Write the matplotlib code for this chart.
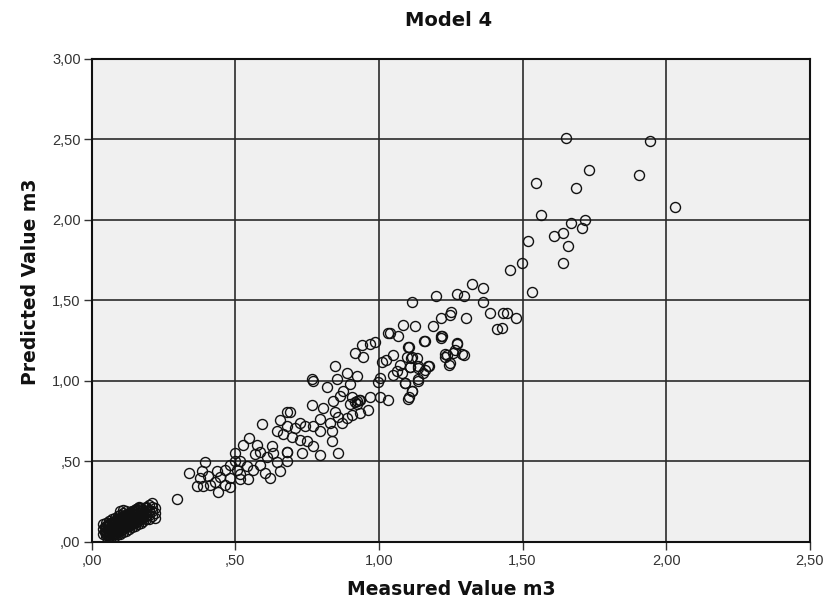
import matplotlib
matplotlib.use("Agg")
import matplotlib.pyplot as plt
from matplotlib.ticker import FuncFormatter

title = "Model 4"
x_label = "Measured Value m3"
y_label = "Predicted Value m3"

# dense cluster of small values
cluster_x = [0.04,0.04,0.04,0.05,0.05,0.05,0.05,0.05,0.06,0.06,0.06,0.06,0.06,0.06,0.07,0.07,0.07,0.07,0.07,0.07,
             0.08,0.08,0.08,0.08,0.08,0.08,0.09,0.09,0.09,0.09,0.09,0.09,0.10,0.10,0.10,0.10,0.10,0.10,0.10,
             0.11,0.11,0.11,0.11,0.11,0.11,0.11,0.12,0.12,0.12,0.12,0.12,0.12,0.13,0.13,0.13,0.13,0.13,
             0.14,0.14,0.14,0.14,0.14,0.15,0.15,0.15,0.15,0.16,0.16,0.16,0.16,0.17,0.17,0.17,0.17,
             0.18,0.18,0.18,0.19,0.19,0.19,0.20,0.20,0.20,0.21,0.21,0.21,0.22,0.22,0.22,
             0.08,0.09,0.10,0.11,0.12,0.13,0.14,0.15,0.16,0.17,0.18,0.19,
             0.05,0.06,0.07,0.08,0.09,0.10,0.11,0.12,0.13,0.14,0.15,0.16,
             0.06,0.07,0.09,0.10,0.11,0.12,0.13,0.14,0.15,0.16,0.17,0.18,0.19,
             0.05,0.06,0.08,0.09,0.10,0.12,0.13,0.14,0.16,0.17,0.18,0.19,0.20,0.20,0.21,0.19,
             0.045,0.055,0.065,0.075,0.085,0.095,0.105,0.115,0.125,0.135,0.145,0.155,
             0.045,0.055,0.065,0.075,0.085,0.095,0.105,0.115,0.125,0.135,0.145,0.155,0.165,
             0.055,0.065,0.075,0.085,0.095,0.105,0.115,0.125,0.135,0.145]
cluster_y = [0.05,0.08,0.11,0.04,0.07,0.10,0.12,0.06,0.03,0.05,0.08,0.11,0.13,0.07,0.04,0.06,0.09,0.12,0.14,0.08,
             0.05,0.07,0.10,0.12,0.15,0.09,0.06,0.08,0.11,0.13,0.16,0.10,0.07,0.09,0.12,0.14,0.17,0.19,0.11,
             0.08,0.10,0.13,0.15,0.18,0.20,0.12,0.09,0.11,0.14,0.16,0.19,0.13,0.10,0.12,0.15,0.17,0.14,
             0.11,0.13,0.16,0.18,0.15,0.12,0.14,0.17,0.19,0.13,0.15,0.18,0.20,0.14,0.16,0.19,0.21,
             0.15,0.17,0.20,0.16,0.18,0.21,0.14,0.17,0.20,0.16,0.19,0.22,0.15,0.18,0.21,
             0.04,0.05,0.05,0.06,0.07,0.08,0.09,0.10,0.11,0.12,0.13,0.14,
             0.09,0.10,0.11,0.13,0.14,0.15,0.16,0.17,0.18,0.19,0.20,0.21,
             0.04,0.05,0.07,0.08,0.09,0.10,0.11,0.12,0.13,0.14,0.15,0.16,0.17,
             0.05,0.06,0.08,0.09,0.10,0.12,0.13,0.14,0.16,0.17,0.18,0.19,0.19,0.23,0.24,0.22,
             0.065,0.075,0.085,0.095,0.105,0.115,0.125,0.135,0.145,0.155,0.165,0.175,
             0.095,0.105,0.115,0.125,0.135,0.145,0.155,0.165,0.175,0.185,0.195,0.205,0.215,
             0.045,0.055,0.065,0.075,0.085,0.095,0.105,0.115,0.125,0.135]

# middle range
mid_x = [0.296,0.338,0.383,0.376,0.366,0.387,0.411,0.439,0.481,0.394,0.446,0.463,0.481,0.505,0.516,0.540,0.544,
         0.568,0.585,0.603,0.620,0.610,0.631,0.645,0.655,0.679,0.679,0.627,0.575,0.585,0.498,0.436,0.481,0.516,
         0.561,0.428,0.463,0.516,0.404,0.498,0.526,0.547,0.592,0.655,0.679,0.645,
         0.690,0.679,0.666,0.697,0.725,0.749,0.770,0.836,0.857,0.794,0.732,0.679,0.707,0.742,0.725,0.770,0.794,
         0.829,0.836,0.794,0.857,0.871,0.906,0.888,0.847,0.840,0.864,0.805,0.767,0.934,0.962,0.969,0.923,0.930,
         0.906,0.875,0.899,0.854,0.819,0.767,0.770,0.847,0.888,0.923,0.916,0.944,0.940,0.969,0.986,1.010,1.025,
         1.048,1.003,0.997,1.049,1.003,1.030,1.100,1.090,1.115,1.136,1.038,1.066,1.073,1.063,1.097,1.113,1.100,
         1.160,1.220,1.270,1.290,1.257,1.230,1.247,1.108,1.136,1.170,1.160,1.030,0.915,0.925,0.935,0.900]
mid_y = [0.27,0.43,0.44,0.40,0.345,0.345,0.357,0.31,0.34,0.495,0.405,0.45,0.48,0.45,0.50,0.47,0.39,
         0.545,0.48,0.43,0.40,0.525,0.555,0.495,0.44,0.56,0.50,0.595,0.605,0.56,0.50,0.44,0.40,0.42,
         0.45,0.37,0.357,0.39,0.41,0.555,0.60,0.645,0.735,0.76,0.81,0.69,
         0.81,0.56,0.67,0.655,0.635,0.625,0.595,0.625,0.555,0.54,0.55,0.72,0.71,0.72,0.74,0.72,0.765,
         0.74,0.69,0.69,0.775,0.74,0.79,0.77,0.81,0.875,0.905,0.835,0.85,0.80,0.82,0.90,0.875,0.88,
         0.90,0.935,0.98,1.01,0.965,1.015,1.00,1.09,1.05,1.03,1.175,1.15,1.225,1.23,1.24,1.12,1.13,
         1.16,1.02,0.995,1.04,0.90,0.88,0.885,0.985,0.94,1.00,1.30,1.28,1.10,1.06,1.15,1.145,1.21,
         1.25,1.28,1.235,1.165,1.175,1.165,1.11,1.085,1.08,1.09,1.07,1.30,0.87,0.86,0.88,0.86]

# upper range
upper_x = [1.650,1.944,1.732,1.906,1.547,1.686,2.031,1.564,1.718,1.669,1.707,1.641,1.610,1.519,1.659,1.498,
           1.641,1.456,1.533,1.362,1.362,1.387,1.432,1.446,1.477,1.324,1.272,1.296,1.199,1.115,1.251,1.247,
           1.216,1.303,1.084,1.125,1.188,1.411,1.429,1.216,1.216,1.157,1.272,1.105,1.265,1.296,1.230,1.237,
           1.244,1.174,1.132,1.115,1.108,1.136,1.153,1.136,1.091,1.115,1.105,1.080]
upper_y = [2.51,2.49,2.31,2.28,2.23,2.20,2.08,2.03,2.00,1.98,1.95,1.92,1.90,1.87,1.84,1.73,
           1.73,1.69,1.55,1.575,1.49,1.425,1.425,1.42,1.39,1.60,1.54,1.53,1.53,1.49,1.43,1.41,
           1.39,1.39,1.35,1.34,1.34,1.32,1.33,1.28,1.265,1.25,1.23,1.21,1.19,1.16,1.15,1.16,
           1.10,1.09,1.145,1.15,1.085,1.09,1.05,1.01,0.985,0.94,0.90,1.05]

x_ticks = [0.0, 0.5, 1.0, 1.5, 2.0, 2.5]
y_ticks = [0.0, 0.5, 1.0, 1.5, 2.0, 2.5, 3.0]

plt.rcParams['font.family'] = ['Liberation Sans', 'DejaVu Sans']

fig = plt.figure(figsize=(8.34, 6.0), dpi=100)
ax = fig.add_axes([0.110, 0.0967, 0.861, 0.805])
ax.set_facecolor('#F0F0F0')

for xs, ys in ((cluster_x, cluster_y), (mid_x, mid_y), (upper_x, upper_y)):
    ax.plot(xs, ys, linestyle='none', marker='o', markersize=7.2,
            markerfacecolor='none', markeredgecolor='#111111', markeredgewidth=1.0,
            zorder=3)

ax.set_xlim(0, 2.5)
ax.set_ylim(0, 3.0)
ax.set_xticks(x_ticks)
ax.set_yticks(y_ticks)

def fmt(v, pos):
    s = f"{v:.2f}".replace('.', ',')
    if s.startswith('0'):
        s = s[1:]
    return s

ax.xaxis.set_major_formatter(FuncFormatter(fmt))
ax.yaxis.set_major_formatter(FuncFormatter(fmt))
ax.grid(True, color='#2a2a2a', linewidth=1.2, zorder=1)
ax.set_axisbelow(True)
for sp in ax.spines.values():
    sp.set_color('#111111')
    sp.set_linewidth(1.5)
ax.tick_params(direction='out', length=6, width=1, colors='#333333',
               labelsize=10.5, labelcolor='#333333', pad=2)
ax.tick_params(axis='x', pad=3)

lab_font = dict(family='DejaVu Sans', fontweight='bold', color='#111111')
fig.text(451 / 834, 1 - 595 / 600, x_label, ha='center', va='baseline', fontsize=13.5, **lab_font)
fig.text(31 / 834, 1 - 282 / 600, y_label, ha='center', va='center', rotation=90, fontsize=13.5, **lab_font)
fig.text(449 / 834, 1 - 26 / 600, title, ha='center', va='baseline', fontsize=14, **lab_font)

fig.savefig('out.png', dpi=100)
